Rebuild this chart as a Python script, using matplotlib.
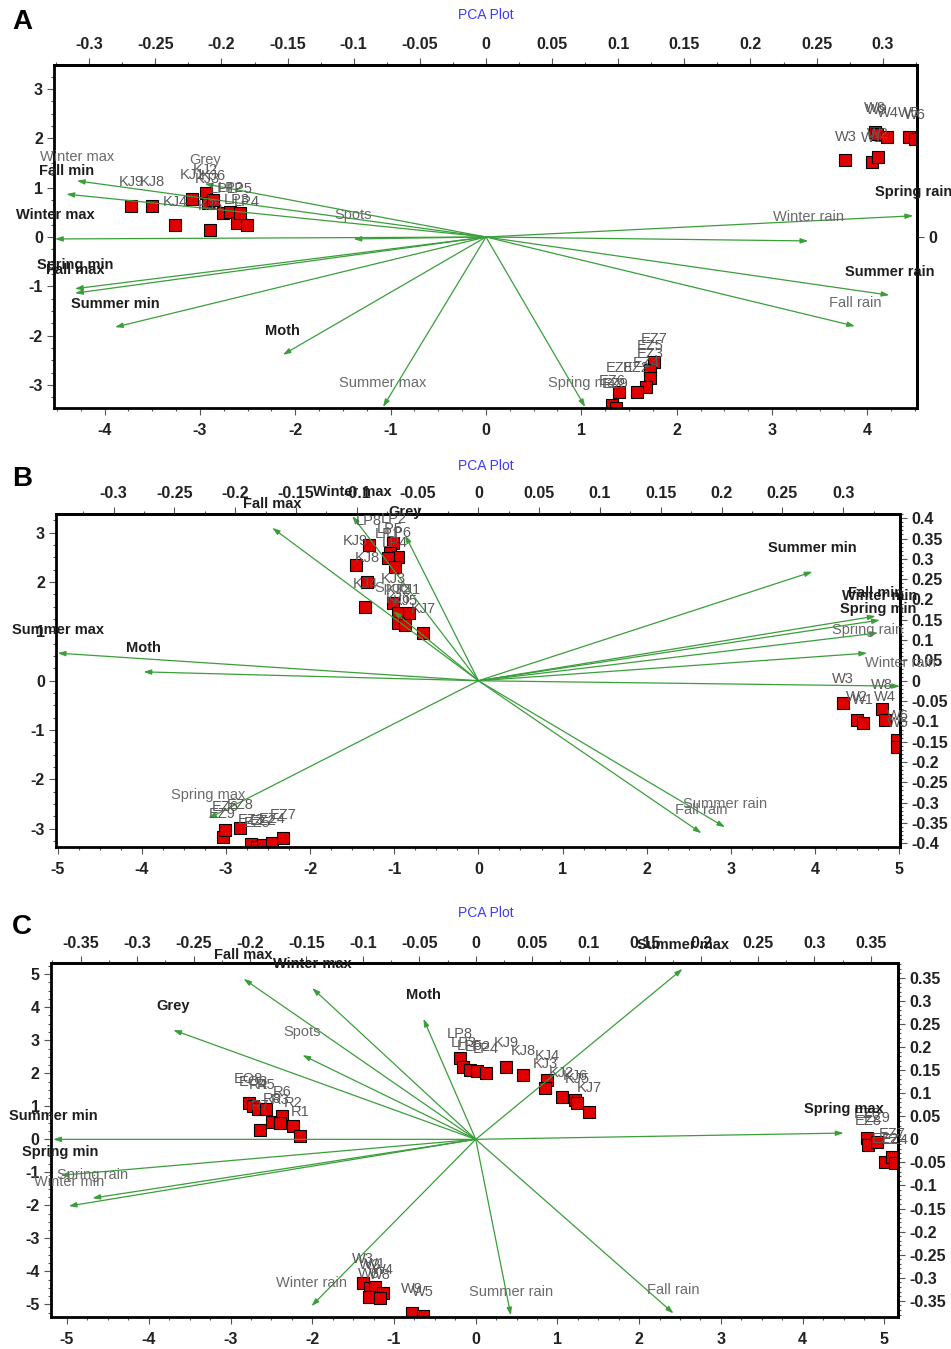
"""PCA biplots A/B/C: sample scores (red squares) + variable loadings (green arrows)."""
import matplotlib
matplotlib.use("Agg")
import matplotlib.pyplot as plt
from matplotlib.ticker import MultipleLocator, FixedLocator, FuncFormatter

plt.rcParams["font.family"] = ["Liberation Sans", "DejaVu Sans"]

# ---------------- panel A ----------------
a_pt_names = ["KJ9", "KJ8", "KJ4", "KJ1", "KJ2", "KJ3", "KJ6", "KJ5", "LP1", "LP2",
              "LP3", "LP4", "LP5",
              "W8", "W9", "W4", "W5", "W6", "W3", "W1", "W2",
              "EZ7", "EZ5", "EZ3", "EZ4", "EZ2", "EZ8", "EZ6", "EZ9"]
a_pt_x = [-3.72, -3.50, -3.26, -3.08, -2.94, -2.92, -2.86, -2.89, -2.76, -2.68,
          -2.61, -2.51, -2.58,
          4.08, 4.10, 4.21, 4.44, 4.50, 3.77, 4.05, 4.11,
          1.76, 1.72, 1.72, 1.68, 1.58, 1.40, 1.32, 1.36]
a_pt_y = [0.63, 0.63, 0.24, 0.77, 0.89, 0.69, 0.75, 0.14, 0.49, 0.51,
          0.28, 0.24, 0.49,
          2.13, 2.09, 2.03, 2.03, 1.99, 1.56, 1.52, 1.62,
          -2.54, -2.70, -2.86, -3.04, -3.14, -3.14, -3.41, -3.47]
a_var_names = ["Winter max", "Fall min", "Winter max", "Spots", "Grey", "Spring min",
               "Fall max", "Summer min", "Moth", "Summer max", "Spring max",
               "Winter rain", "Spring rain", "Summer rain", "Fall rain"]
a_var_x = [-4.29, -4.40, -4.52, -1.39, -2.95, -4.31, -4.31, -3.89, -2.13, -1.08, 1.04,
           3.38, 4.48, 4.23, 3.87]
a_var_y = [1.14, 0.87, -0.04, -0.04, 1.08, -1.05, -1.14, -1.83, -2.39, -3.45, -3.45,
           -0.08, 0.43, -1.18, -1.81]

# ---------------- panel B ----------------
b_pt_names = ["LP8", "KJ9", "KJ8", "KJ4", "LP2", "LP5", "LP6", "LP1", "LP4", "KJ3",
              "KJ2", "KJ1", "KJ6", "KJ5", "KJ7",
              "EZ9", "EZ6", "EZ8", "EZ3", "EZ5", "EZ2", "EZ4", "EZ7",
              "W3", "W2", "W1", "W8", "W4", "W6", "W5"]
b_pt_x = [-1.30, -1.46, -1.32, -1.35, -1.01, -1.05, -0.95, -1.08, -0.99, -1.01,
          -0.95, -0.83, -0.95, -0.87, -0.66,
          -3.04, -3.01, -2.83, -2.70, -2.63, -2.56, -2.45, -2.32,
          4.33, 4.50, 4.57, 4.80, 4.83, 4.98, 4.98]
b_pt_y = [2.75, 2.35, 2.00, 1.49, 2.79, 2.59, 2.51, 2.49, 2.31, 1.58,
          1.37, 1.37, 1.17, 1.13, 0.97,
          -3.17, -3.03, -2.99, -3.31, -3.37, -3.33, -3.29, -3.19,
          -0.45, -0.80, -0.86, -0.57, -0.80, -1.20, -1.34]
b_var_names = ["Summer max", "Moth", "Fall max", "Winter max", "Grey", "Spots",
               "Spring max", "Summer min", "Fall min", "Winter min", "Spring min",
               "Spring rain", "Winter rain", "Summer rain", "Fall rain"]
b_var_x = [-5.00, -3.98, -2.45, -1.50, -0.87, -1.01, -3.21, 3.97, 4.72, 4.77, 4.75,
           4.62, 5.01, 2.93, 2.65]
b_var_y = [0.56, 0.18, 3.10, 3.34, 2.95, 1.41, -2.79, 2.21, 1.31, 1.23, 0.97,
           0.56, -0.11, -2.97, -3.09]

# ---------------- panel C ----------------
c_pt_names = ["EO8", "EO3", "R4", "R5", "R7", "R8", "R6", "R3", "R2", "R1",
              "W3", "W2", "W1", "W4", "W6", "W8", "W9", "W5",
              "LP8", "LP3", "LP5", "LP2", "LP4", "KJ9", "KJ8", "KJ4", "KJ3", "KJ2",
              "KJ6", "KJ5", "KJ7",
              "EZ6", "EZ8", "EZ9", "EZ2", "EZ7", "EZ4"]
c_pt_x = [-2.78, -2.72, -2.66, -2.57, -2.64, -2.49, -2.37, -2.39, -2.24, -2.15,
          -1.38, -1.29, -1.23, -1.13, -1.31, -1.17, -0.78, -0.65,
          -0.19, -0.15, -0.07, 0.02, 0.12, 0.37, 0.58, 0.87, 0.85, 1.05,
          1.22, 1.24, 1.39,
          4.79, 4.80, 4.91, 5.01, 5.09, 5.13]
c_pt_y = [1.10, 1.01, 0.92, 0.92, 0.28, 0.52, 0.71, 0.49, 0.40, 0.10,
          -4.35, -4.51, -4.48, -4.66, -4.78, -4.81, -5.26, -5.35,
          2.46, 2.19, 2.10, 2.07, 2.01, 2.19, 1.95, 1.80, 1.56, 1.28,
          1.19, 1.10, 0.83,
          0.04, -0.17, -0.08, -0.69, -0.54, -0.72]
c_var_names = ["Fall max", "Winter max", "Grey", "Spots", "Moth", "Summer min",
               "Spring min", "Spring rain", "Winter min", "Winter rain",
               "Summer max", "Spring max", "Summer rain", "Fall rain"]
c_var_x = [-2.84, -2.00, -3.70, -2.12, -0.64, -5.17, -5.08, -4.69, -4.98, -2.01,
           2.53, 4.50, 0.43, 2.42]
c_var_y = [4.86, 4.58, 3.31, 2.55, 3.65, 0.00, -1.09, -1.78, -2.02, -5.05,
           5.16, 0.19, -5.33, -5.27]

# labels that are printed dark in the original, the rest are grey
DARK_A = {1, 2, 5, 6, 7, 8, 12, 13}
DARK_B = {0, 1, 2, 3, 4, 7, 8, 9, 10}
DARK_C = {0, 1, 2, 4, 5, 6, 10, 11}

GREEN = "#3a9e3a"
TICK_KW = dict(fontsize=11.5, fontweight="bold", color="#222222")


def _fmt(v, _pos):
    v = round(v, 3)
    if v == 0:
        return "0"
    return f"{v:g}"


def _style_axis(axis, major, minor):
    axis.set_major_locator(major)
    axis.set_minor_locator(minor)
    axis.set_major_formatter(FuncFormatter(_fmt))


def draw_panel(fig, rect, letter, letter_y, title_y, pts, vars_, dark,
               xlim, ylim, kx, ky, top_step, right_major, right_minor):
    ax = fig.add_axes(rect)
    names, px, py = pts
    vnames, vx, vy = vars_

    ax.plot(px, py, "s", ms=8, mfc="#e00000", mec="black", mew=0.8,
            ls="none", zorder=2)
    for n, x, y in zip(names, px, py):
        ax.annotate(n, (x, y), xytext=(0, 17), textcoords="offset points",
                    ha="center", va="center", fontsize=10.5, color="#5a5a5a",
                    zorder=4, annotation_clip=False)

    for i, (n, x, y) in enumerate(zip(vnames, vx, vy)):
        ax.annotate("", xy=(x, y), xytext=(0, 0),
                    arrowprops=dict(arrowstyle="-|>,head_length=0.45,head_width=0.15",
                                    color=GREEN, lw=0.9, shrinkA=0, shrinkB=0),
                    zorder=3)
        ax.annotate(n, (x, y), xytext=(0, 17), textcoords="offset points",
                    ha="center", va="center", fontsize=10.5,
                    color="#1e1e1e" if i in dark else "#6a6a6a",
                    fontweight="bold" if i in dark else "normal",
                    zorder=4, annotation_clip=False)

    ax.set_xlim(*xlim)
    ax.set_ylim(*ylim)
    _style_axis(ax.xaxis, MultipleLocator(1), MultipleLocator(0.25))
    _style_axis(ax.yaxis, MultipleLocator(1), MultipleLocator(0.25))
    ax.tick_params(which="both", direction="out", color="#555555", width=0.8)
    ax.tick_params(which="major", length=5)
    ax.tick_params(which="minor", length=2.5)
    ax.tick_params(axis="x", pad=6)
    ax.tick_params(axis="y", pad=3)
    for lab in ax.get_xticklabels() + ax.get_yticklabels():
        lab.set(**TICK_KW)
    for sp in ax.spines.values():
        sp.set_linewidth(2)
        sp.set_color("black")

    top = ax.secondary_xaxis("top", functions=(lambda x: x * kx, lambda x: x / kx))
    _style_axis(top.xaxis, MultipleLocator(top_step), MultipleLocator(top_step / 2))
    top.tick_params(which="both", direction="out", color="#555555", width=0.8, pad=4)
    top.tick_params(which="major", length=5)
    top.tick_params(which="minor", length=2.5)
    top.spines["top"].set_linewidth(2)
    for lab in top.get_xticklabels():
        lab.set(**TICK_KW)

    right = ax.secondary_yaxis("right", functions=(lambda y: y * ky, lambda y: y / ky))
    _style_axis(right.yaxis, right_major, right_minor)
    right.tick_params(which="both", direction="out", color="#555555", width=0.8, pad=3)
    right.tick_params(which="major", length=5)
    right.tick_params(which="minor", length=2.5)
    right.spines["right"].set_linewidth(2)
    for lab in right.get_yticklabels():
        lab.set(**TICK_KW)

    fig.text(22 / 951, letter_y, letter, ha="center", va="center",
             fontsize=20, fontweight="bold")
    fig.text(486 / 951, title_y, "PCA Plot", ha="center", va="center",
             fontsize=10, color="#3b3bff")
    return ax


fig = plt.figure(figsize=(9.51, 13.49), dpi=100)
H = 1349.0

draw_panel(fig, [54 / 951, 1 - 408 / H, 863 / 951, 343 / H], "A", 1 - 22 / H, 1 - 15 / H,
           (a_pt_names, a_pt_x, a_pt_y), (a_var_names, a_var_x, a_var_y), DARK_A,
           (-4.53, 4.52), (-3.47, 3.49), 0.07211, 0.1, 0.05,
           FixedLocator([0]), FixedLocator([]))

draw_panel(fig, [56 / 951, 1 - 847 / H, 844 / 951, 333 / H], "B", 1 - 479 / H, 1 - 466 / H,
           (b_pt_names, b_pt_x, b_pt_y), (b_var_names, b_var_x, b_var_y), DARK_B,
           (-5.02, 5.01), (-3.37, 3.38), 0.0692, 0.1214, 0.05,
           MultipleLocator(0.05), MultipleLocator(0.01))

draw_panel(fig, [50.7 / 951, 1 - 1316.7 / H, 847.6 / 951, 353.4 / H], "C",
           1 - 927 / H, 1 - 913 / H,
           (c_pt_names, c_pt_x, c_pt_y), (c_var_names, c_var_x, c_var_y), DARK_C,
           (-5.20, 5.17), (-5.37, 5.33), 0.07242, 0.0716, 0.05,
           MultipleLocator(0.05), MultipleLocator(0.01))

fig.savefig("out.png", dpi=100)
